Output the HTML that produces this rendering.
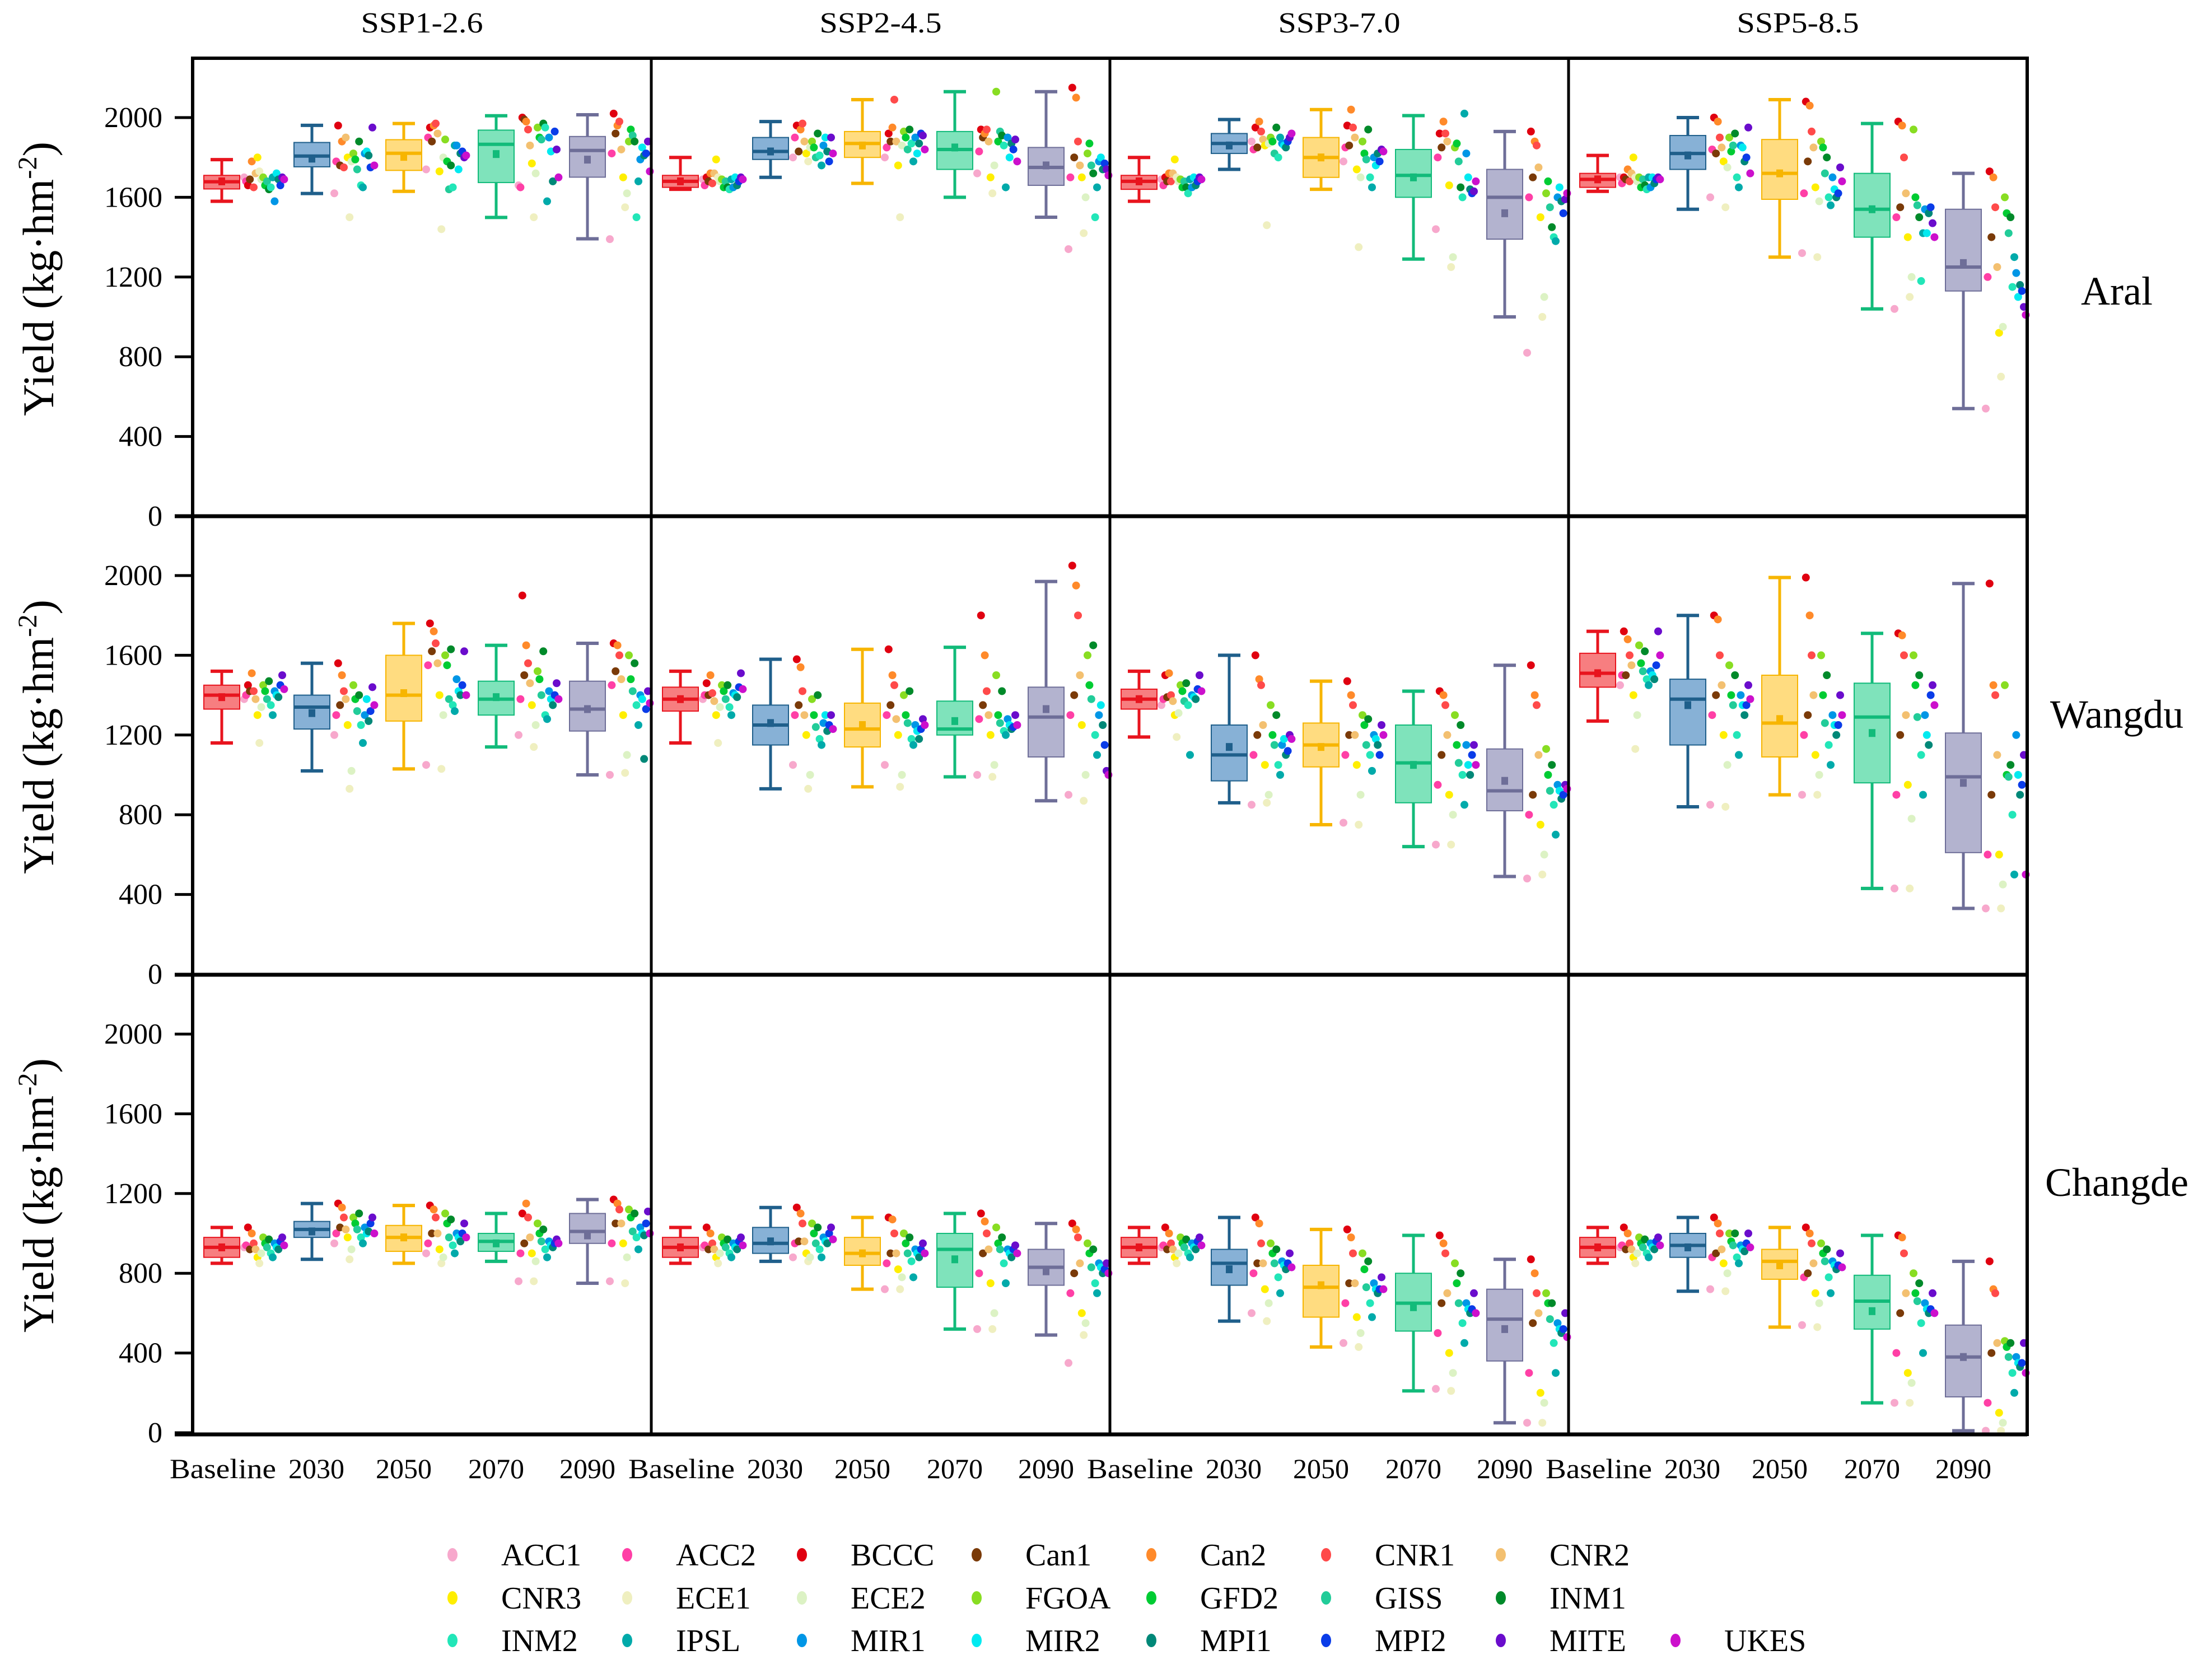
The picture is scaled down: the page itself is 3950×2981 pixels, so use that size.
<!DOCTYPE html>
<html><head><meta charset="utf-8">
<style>
html,body{margin:0;padding:0;background:#fff;}
svg{display:block;}
text{font-family:"Liberation Serif","DejaVu Serif",serif;fill:#000;}
</style></head>
<body>
<svg id="chart" width="3950" height="2981" viewBox="0 0 3950 2981" xmlns="http://www.w3.org/2000/svg" font-family="Liberation Serif, serif"></svg>
<script>
// ---- data ----
const scenarios = ["SSP1-2.6","SSP2-4.5","SSP3-7.0","SSP5-8.5"];
const sites = ["Aral","Wangdu","Changde"];
const periods = ["Baseline","2030","2050","2070","2090"];
const yTicks = [0,400,800,1200,1600,2000];
const models = ["ACC1","ACC2","BCCC","Can1","Can2","CNR1","CNR2","CNR3","ECE1","ECE2","FGOA","GFD2","GISS","INM1","INM2","IPSL","MIR1","MIR2","MPI1","MPI2","MITE","UKES"];
// box stats: 12 panels (site-major, then scenario), 5 periods each
const whiskLow = [
 [1580,1619,1630,1499,1392],[1640,1700,1670,1600,1500],[1580,1740,1640,1290,1000],[1630,1540,1300,1040,540],
 [1160,1020,1030,1140,1000],[1160,930,940,990,870],[1190,860,750,640,490],[1270,840,900,430,330],
 [850,870,850,860,750],[850,860,720,520,490],[850,560,430,210,50],[850,710,530,150,10]];
const q1 = [
 [1642,1753,1735,1674,1701],[1650,1790,1800,1740,1660],[1640,1820,1700,1600,1390],[1650,1740,1590,1400,1130],
 [1330,1230,1270,1300,1220],[1320,1150,1140,1200,1090],[1330,970,1040,860,820],[1440,1150,1090,960,610],
 [880,980,910,910,950],[880,900,840,730,740],[880,740,580,510,360],[880,880,770,520,180]];
const median = [
 [1678,1807,1821,1866,1835],[1680,1830,1870,1840,1750],[1680,1870,1800,1710,1600],[1690,1820,1720,1540,1250],
 [1400,1340,1400,1380,1330],[1380,1250,1230,1230,1290],[1380,1100,1150,1060,920],[1510,1380,1260,1290,990],
 [930,1020,980,960,1010],[930,950,900,920,830],[930,850,730,650,570],[930,940,860,660,380]];
const q3 = [
 [1710,1875,1889,1937,1905],[1710,1900,1930,1930,1850],[1710,1920,1900,1840,1740],[1720,1910,1890,1720,1540],
 [1450,1400,1600,1470,1470],[1440,1350,1360,1370,1440],[1430,1250,1260,1250,1130],[1610,1480,1500,1460,1210],
 [980,1060,1040,1000,1100],[980,1030,980,1000,920],[980,920,840,800,720],[980,1000,920,790,540]];
const whiskHigh = [
 [1789,1961,1970,2009,2014],[1800,1980,2090,2130,2130],[1800,1990,2040,2010,1930],[1810,2000,2090,1970,1720],
 [1520,1560,1760,1650,1660],[1520,1580,1630,1640,1970],[1520,1600,1470,1420,1550],[1720,1800,1990,1710,1960],
 [1030,1150,1140,1100,1170],[1030,1130,1080,1100,1050],[1030,1080,1020,990,870],[1030,1080,1030,990,860]];
const means = [
 [1680,1794,1803,1817,1789],[1680,1830,1860,1850,1760],[1680,1860,1800,1700,1520],[1690,1810,1720,1540,1270],
 [1390,1310,1410,1390,1330],[1380,1260,1250,1270,1330],[1380,1140,1140,1050,970],[1510,1350,1280,1210,960],
 [930,1010,980,950,990],[930,960,900,870,810],[930,820,740,630,520],[930,930,840,610,380]];
// model values: [panel][period][model]
const modelValues = [
 [[1700,1680,1660,1690,1780,1650,1720,1800,1730,1690,1700,1660,1680,1640,1650,1700,1580,1720,1690,1660,1700,1690],
  [1620,1780,1960,1760,1880,1750,1900,1800,1500,1780,1820,1790,1740,1880,1660,1650,1820,1830,1810,1750,1950,1760],
  [1740,1900,1950,1880,1960,1970,1920,1730,1440,1800,1890,1780,1640,1760,1650,1860,1860,1740,1820,1830,1800,1810],
  [1660,1650,2000,1990,1980,1940,1860,1770,1500,1720,1950,1900,1890,1970,1950,1580,1900,1830,1680,1930,1840,1700],
  [1390,1820,2020,1920,1960,1980,1840,1700,1550,1620,1880,1940,1910,1880,1500,1680,1790,1850,1810,1820,1880,1730]],
 [[1690,1660,1700,1680,1720,1670,1720,1790,1700,1680,1690,1650,1680,1650,1640,1690,1650,1700,1660,1680,1700,1690],
  [1800,1900,1960,1830,1940,1970,1880,1820,1780,1850,1880,1850,1800,1920,1810,1760,1860,1900,1830,1780,1900,1820],
  [1800,1850,1920,1880,1950,2090,1880,1760,1500,1860,1930,1900,1840,1940,1870,1780,1900,1820,1870,1920,1910,1840],
  [1720,1830,1940,1900,1920,1940,1880,1700,1620,1760,2130,1880,1930,1910,1860,1650,1900,1800,1870,1840,1890,1780],
  [1340,1700,2150,1800,2100,1880,1760,1700,1420,1600,1820,1870,1760,1720,1500,1650,1780,1800,1740,1770,1740,1710]],
 [[1690,1660,1700,1680,1720,1680,1720,1790,1700,1680,1690,1650,1680,1650,1620,1690,1650,1700,1660,1680,1700,1690],
  [1880,1840,1950,1850,1980,1930,1890,1860,1460,1870,1900,1880,1820,1950,1800,1900,1870,1860,1850,1880,1900,1920],
  [1780,1850,1960,1860,2040,1950,1900,1740,1350,1700,1880,1820,1790,1940,1700,1650,1800,1760,1820,1780,1840,1830],
  [1440,1800,1920,1850,1980,1920,1880,1660,1250,1300,1850,1870,1780,1650,1600,2020,1820,1700,1640,1620,1630,1680],
  [820,1600,1930,1700,1880,1860,1750,1500,1000,1100,1620,1680,1550,1450,1400,1380,1600,1650,1580,1520,1590,1620]],
 [[1700,1670,1700,1690,1740,1680,1720,1800,1700,1680,1700,1650,1690,1660,1640,1700,1650,1700,1670,1690,1700,1690],
  [1600,1840,2000,1820,1980,1900,1850,1780,1550,1750,1900,1830,1860,1920,1700,1650,1860,1850,1780,1800,1950,1720],
  [1320,1620,2080,1780,2060,1930,1850,1650,1300,1580,1880,1850,1720,1800,1600,1560,1700,1640,1600,1620,1750,1680],
  [1040,1500,1980,1550,1960,1800,1620,1400,1100,1200,1940,1600,1560,1500,1180,1420,1540,1420,1520,1550,1470,1400],
  [540,1200,1730,1400,1700,1550,1250,920,700,950,1600,1520,1420,1500,1150,1300,1220,1100,1160,1130,1050,1010]],
 [[1380,1400,1450,1420,1510,1420,1380,1300,1160,1340,1450,1420,1380,1470,1350,1300,1420,1400,1390,1450,1500,1430],
  [1200,1300,1560,1350,1500,1420,1380,1250,930,1020,1450,1380,1320,1400,1250,1160,1300,1380,1270,1320,1440,1350],
  [1050,1550,1760,1620,1720,1660,1560,1400,1030,1300,1600,1550,1380,1630,1350,1320,1480,1420,1400,1450,1620,1400],
  [1200,1380,1900,1500,1650,1560,1460,1350,1140,1250,1520,1480,1400,1620,1300,1280,1420,1380,1350,1400,1460,1380],
  [1000,1450,1660,1520,1650,1600,1480,1300,1010,1100,1600,1480,1420,1560,1350,1250,1400,1380,1080,1330,1420,1360]],
 [[1380,1400,1460,1400,1500,1410,1370,1300,1160,1340,1450,1420,1380,1450,1340,1300,1410,1400,1390,1440,1510,1430],
  [1050,1300,1580,1350,1540,1420,1300,1200,930,1000,1380,1300,1240,1400,1180,1150,1260,1300,1220,1250,1300,1230],
  [1050,1300,1630,1350,1500,1450,1280,1200,940,1000,1400,1300,1260,1420,1180,1150,1250,1220,1180,1230,1280,1250],
  [1000,1280,1800,1350,1600,1420,1300,1200,990,1050,1500,1300,1260,1420,1220,1200,1280,1250,1230,1240,1300,1250],
  [900,1300,2050,1400,1950,1800,1500,1250,870,1000,1600,1450,1380,1650,1200,1100,1300,1350,1250,1150,1020,1000]],
 [[1350,1380,1500,1390,1510,1400,1370,1300,1190,1310,1450,1420,1370,1460,1350,1100,1400,1390,1380,1430,1500,1420],
  [850,1100,1600,1200,1480,1450,1250,1050,860,900,1350,1200,1150,1300,1050,1000,1150,1180,1100,1120,1200,1180],
  [760,1100,1470,1200,1400,1350,1200,1050,750,900,1300,1250,1150,1280,1100,1020,1200,1180,1150,1100,1250,1200],
  [650,950,1420,1100,1400,1350,1200,900,650,800,1300,1150,1060,1250,1000,850,1150,1050,1000,1100,1150,1050],
  [480,800,1550,900,1400,1350,1100,750,500,600,1130,1000,920,1050,850,700,950,920,880,900,950,930]],
 [[1450,1500,1720,1500,1680,1600,1550,1400,1130,1300,1650,1560,1520,1620,1480,1450,1520,1500,1480,1550,1720,1600],
  [850,1300,1800,1400,1780,1600,1450,1200,840,1050,1550,1400,1350,1500,1200,1100,1400,1350,1300,1350,1450,1380],
  [900,1200,1990,1300,1800,1600,1400,1100,900,1000,1600,1400,1260,1500,1150,1050,1300,1250,1200,1250,1400,1300],
  [430,900,1710,1200,1700,1600,1300,950,430,780,1600,1450,1290,1500,1100,900,1300,1200,1150,1400,1450,1350],
  [330,600,1960,900,1450,1400,1100,600,330,450,1450,1000,990,1050,800,500,1200,1000,900,950,1100,500]],
 [[930,940,1030,920,1000,950,920,880,850,900,980,950,930,970,900,880,950,930,920,960,980,940],
  [950,1000,1150,1030,1130,1080,1020,980,870,920,1080,1050,1020,1100,980,950,1030,1000,1010,1050,1080,1000],
  [900,950,1140,1000,1120,1080,1000,920,850,880,1100,1050,980,1070,940,900,1000,980,960,1000,1050,980],
  [760,900,1100,950,1150,1080,980,900,760,860,1050,1000,960,1020,920,880,960,940,930,950,970,950],
  [760,950,1170,1050,1150,1120,1050,950,750,880,1120,1080,1010,1100,980,920,1030,1000,990,1050,1110,1000]],
 [[930,940,1030,920,1000,950,920,880,850,900,980,950,930,970,900,880,950,930,920,960,980,940],
  [880,950,1130,960,1100,1050,960,900,860,880,1050,1000,950,1030,920,880,980,960,950,1000,1030,970],
  [720,850,1080,900,1070,1000,900,820,720,780,1000,950,900,980,860,780,920,900,880,920,950,900],
  [520,800,1100,900,1060,1000,920,750,520,600,1030,950,920,980,850,750,920,900,880,920,940,900],
  [350,700,1050,800,1020,980,850,600,490,550,950,900,830,920,750,700,850,830,800,820,850,800]],
 [[930,940,1030,920,1000,950,920,880,850,900,980,950,930,970,900,880,950,930,920,960,980,940],
  [600,800,1080,850,1050,950,850,720,560,650,950,900,850,920,780,700,860,840,820,850,900,830],
  [450,650,1020,750,980,900,750,580,430,500,900,820,730,860,650,580,750,720,700,720,780,720],
  [220,500,990,650,950,900,700,400,210,300,850,750,650,800,550,450,650,620,600,620,700,600],
  [50,300,870,550,800,700,600,200,50,150,700,650,570,650,450,300,550,520,500,520,600,480]],
 [[930,940,1030,920,1000,950,920,880,850,900,980,950,930,970,900,880,950,930,920,960,980,940],
  [720,880,1080,900,1050,1000,920,850,710,800,1000,960,940,1000,880,850,940,920,910,950,1000,930],
  [540,780,1030,800,1000,950,850,700,530,650,950,900,860,920,780,700,860,840,820,840,900,830],
  [150,400,990,600,980,900,700,300,150,250,800,700,660,750,550,400,650,620,600,620,700,600],
  [10,150,860,400,720,700,450,100,10,50,460,430,380,450,300,200,380,350,330,350,450,300]]
];

// ---- styles / layout ----
const modelColors = ["#f7a8cc","#ff3fa6","#e00010","#7a3a08","#ff8a2a","#ff4a4a","#f3c070","#ffee00","#efefc0","#dcf2c4","#88dd22","#00cc33","#22cc99","#008a2a","#22e6b8","#00aaaa","#0096e6","#00eaf0","#008878","#0a3ce8","#6a0ccc","#cc10cc"];
const boxStroke = ["#e8141e","#1f5f8b","#f7b500","#12bb7a","#6e6e98"];
const boxFill = ["#f77e80","#87b1d6","#ffdc80","#7fe3bb","#b3b3cf"];
const colX = [344,1163,1982,2801];
const rowTop = [104,922,1741];
const panelW = 819, panelH = 818;
const centerOff = [52,213,377,542,705];
const pxPerUnit = 0.356;
const NS = "http://www.w3.org/2000/svg";
const svg = document.getElementById("chart");
function mk(tag, attrs, parent){ const e=document.createElementNS(NS,tag); for(const k in attrs) e.setAttribute(k,attrs[k]); (parent||svg).appendChild(e); return e; }
function yScale(row, v){ return rowTop[row] + panelH - v*pxPerUnit; }
function xCenter(col, p){ return colX[col] + centerOff[p]; }

// column titles
scenarios.forEach((s,c)=>{
  const t = mk("text",{x:colX[c]+panelW/2,y:58,"text-anchor":"middle","font-size":52,"textLength":218,"lengthAdjust":"spacingAndGlyphs"});
  t.textContent = s;
  
  
});
// row labels and y axes
sites.forEach((site,r)=>{
  const t = mk("text",{x:3780,y:rowTop[r]+ (r===0?440:(r===1?378:395)),"text-anchor":"middle","font-size":72});
  t.textContent = site;
  
  
  const g = mk("g",{});
  
  
  yTicks.forEach(v=>{
    const y = yScale(r,v);
    mk("line",{x1:312,x2:344,y1:y,y2:y,stroke:"#000","stroke-width":5},g);
    const tl = mk("text",{x:290,y:y+17,"text-anchor":"end","font-size":52},g);
    tl.textContent = v;
    
    
  });
  const cy = rowTop[r]+panelH/2 - 15;
  const tt = mk("text",{x:0,y:0,"text-anchor":"middle","font-size":78,"textLength":490,"lengthAdjust":"spacingAndGlyphs",transform:"translate(95,"+cy+") rotate(-90)"});
  tt.innerHTML = 'Yield (kg·hm<tspan font-size="48" dy="-30">-2</tspan><tspan dy="30">)</tspan>';
  
  
});

// panels
for(let r=0;r<3;r++){
  for(let c=0;c<4;c++){
    const pi = r*4+c;
    const g = mk("g",{});
    
    
    for(let p=0;p<5;p++){
      const cx = xCenter(c,p);
      const bw = 64, cap = 40;
      const bg = mk("g",{},g);
      
      
      const yH=yScale(r,whiskHigh[pi][p]), yL=yScale(r,whiskLow[pi][p]);
      const yQ1=yScale(r,q1[pi][p]), yQ3=yScale(r,q3[pi][p]);
      mk("line",{x1:cx,x2:cx,y1:yH,y2:yL,stroke:boxStroke[p],"stroke-width":5},bg);
      mk("line",{x1:cx-cap/2,x2:cx+cap/2,y1:yH,y2:yH,stroke:boxStroke[p],"stroke-width":6},bg);
      mk("line",{x1:cx-cap/2,x2:cx+cap/2,y1:yL,y2:yL,stroke:boxStroke[p],"stroke-width":6},bg);
      mk("rect",{x:cx-bw/2,y:yQ3,width:bw,height:Math.max(1,yQ1-yQ3),fill:boxFill[p],stroke:boxStroke[p],"stroke-width":2},bg);
      const ym=yScale(r,median[pi][p]);
      mk("line",{x1:cx-bw/2,x2:cx+bw/2,y1:ym,y2:ym,stroke:boxStroke[p],"stroke-width":6},bg);
      const ya=yScale(r,means[pi][p]);
      mk("rect",{x:cx-6,y:ya-7,width:12,height:14,fill:boxStroke[p]},bg);
      for(let m=0;m<models.length;m++){
        const d = mk("circle",{cx:cx+40+m*3.4,cy:yScale(r,modelValues[pi][p][m]),r:7,fill:modelColors[m]},bg);
        
        
      }
    }
  }
}
// frame lines
const fr = mk("g",{});


mk("rect",{x:344,y:104,width:3276,height:2458,fill:"none",stroke:"#000","stroke-width":6},fr);
colX.slice(1).forEach(x=>mk("line",{x1:x,x2:x,y1:104,y2:2562,stroke:"#000","stroke-width":5},fr));
rowTop.slice(1).forEach(y=>mk("line",{x1:312,x2:3620,y1:y,y2:y,stroke:"#000","stroke-width":7},fr));
mk("line",{x1:312,x2:3620,y1:2562,y2:2562,stroke:"#000","stroke-width":7},fr);

// x labels
for(let c=0;c<4;c++){
  periods.forEach((pl,p)=>{
    let x = xCenter(c,p);
    if(p===0) x += 2;
    if(p===1) x += 8;
    const t = mk("text",{x:x,y:2640,"text-anchor":"middle","font-size":50,"textLength":p===0?190:100,"lengthAdjust":"spacingAndGlyphs"});
    t.textContent = pl;
    
    
  });
}

// legend
const lg = mk("g",{});


const legendRowY = [2777,2854,2930];
models.forEach((m,i)=>{
  const row = i<7?0:(i<14?1:2);
  const col = i<14? i%7 : i-14;
  const x = 808 + col*312, y = legendRowY[row];
  const eg = mk("g",{},lg);
  
  
  mk("ellipse",{cx:x,cy:y,rx:9,ry:12,fill:modelColors[i]},eg);
  const t = mk("text",{x:x+87,y:y+19,"font-size":56},eg);
  t.textContent = m;
});
</script>
</body></html>
